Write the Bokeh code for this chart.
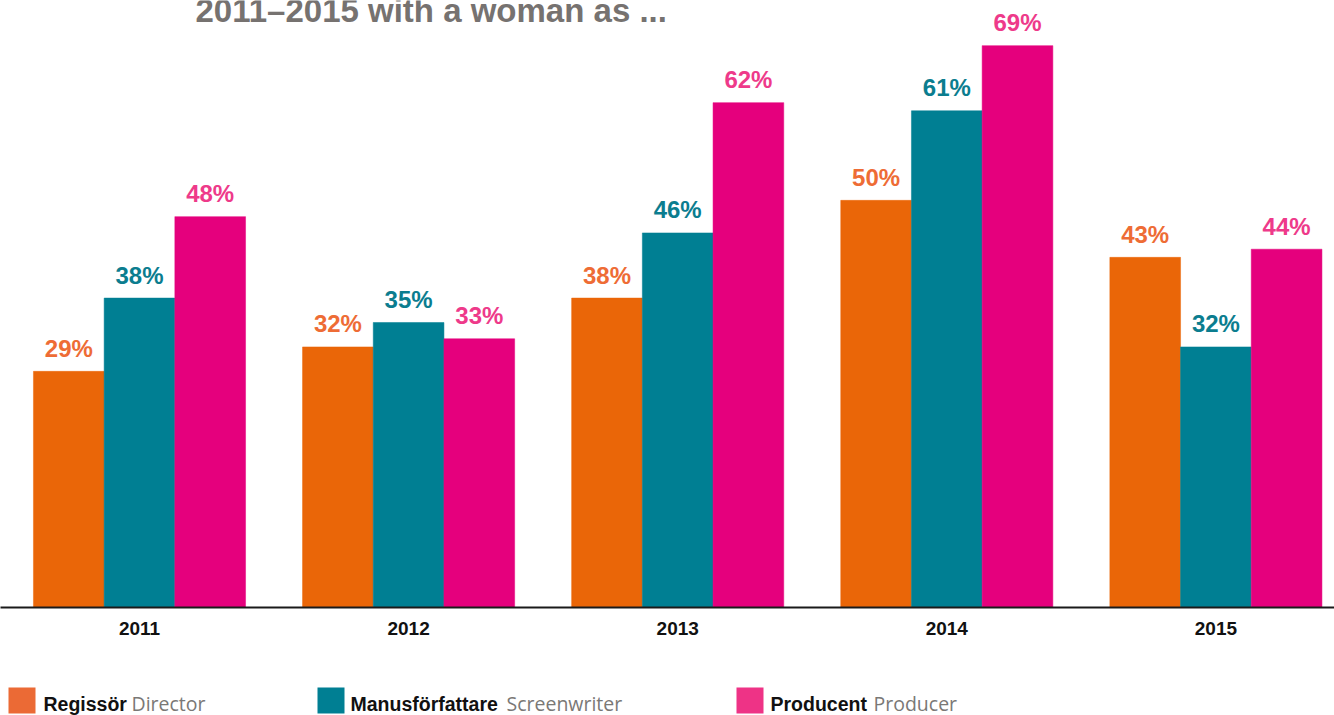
from bokeh.plotting import figure
from bokeh.models import Range1d, ColumnDataSource, LabelSet, Label, FixedTicker
from bokeh.layouts import column
from bokeh.embed import file_html
from bokeh.resources import INLINE
from bokeh.core.properties import value

# ---- data ----
years = ["2011", "2012", "2013", "2014", "2015"]
director = [29, 32, 38, 50, 43]
screenwriter = [38, 35, 46, 61, 32]
producer = [48, 33, 62, 69, 44]
roles_sv = ["Regissör", "Manusförfattare", "Producent"]
roles_en = ["Director", "Screenwriter", "Producer"]
title_text = "2011\u20132015 with a woman as ..."

# ---- styles / layout ----
bar_colors = ["#EA6608", "#007F93", "#E5007D"]
label_colors = ["#EE6C35", "#0B7D8F", "#EE3A8A"]
legend_colors = ["#EB6A35", "#007F93", "#EE3386"]
FONT = "Liberation Sans"

W = 1334
PX_PER_GROUP = 269.1
FIRST_CENTER = 139
PX_PER_PCT = 8.143
AXIS_Y = 607
MAIN_H = 660
LEG_H = 55
BAR_W = 70.7 / PX_PER_GROUP

x_start = -FIRST_CENTER / PX_PER_GROUP
x_end = x_start + W / PX_PER_GROUP
y_end = AXIS_Y / PX_PER_PCT

p = figure(width=W, height=MAIN_H,
           x_range=Range1d(x_start, x_end), y_range=Range1d(0, y_end),
           output_backend="svg", toolbar_location=None, y_axis_location=None,
           min_border_left=0, min_border_right=0, min_border_top=0,
           min_border_bottom=MAIN_H - AXIS_Y)
p.outline_line_color = None
p.grid.visible = False
p.background_fill_color = "white"

series = [director, screenwriter, producer]
for k, vals in enumerate(series):
    offset = (k - 1) * BAR_W
    xs = [i + offset for i in range(len(years))]
    src = ColumnDataSource(dict(x=xs, top=vals, text=[f"{v}%" for v in vals]))
    p.vbar(x="x", top="top", bottom=0, width=BAR_W, source=src,
           fill_color=bar_colors[k], line_color=bar_colors[k], line_width=0.5)
    p.add_layout(LabelSet(x="x", y="top", text="text", source=src,
                          y_offset=14.5, text_align="center", text_baseline="alphabetic",
                          text_font=value(FONT), text_font_style="bold",
                          text_font_size="24px", text_color=label_colors[k]))

ax = p.xaxis[0]
ax.ticker = FixedTicker(ticks=list(range(len(years))))
ax.major_label_overrides = {i: y for i, y in enumerate(years)}
ax.axis_line_width = 2
ax.axis_line_color = "#1a1a1a"
ax.major_tick_line_color = None
ax.minor_tick_line_color = None
ax.major_tick_in = 0
ax.major_tick_out = 0
ax.major_label_standoff = 14
ax.major_label_text_font = FONT
ax.major_label_text_font_style = "bold"
ax.major_label_text_font_size = "19px"
ax.major_label_text_color = "#111111"

p.add_layout(Label(x=x_start + 195 / PX_PER_GROUP, y=(AXIS_Y - 10) / PX_PER_PCT,
                   text=title_text, text_font=FONT, text_font_style="bold",
                   text_font_size="33px", text_color="#767270",
                   text_baseline="middle"))

# ---- legend strip ----
leg = figure(width=W, height=LEG_H, x_range=Range1d(0, W), y_range=Range1d(LEG_H, 0),
             output_backend="svg", toolbar_location=None,
             x_axis_location=None, y_axis_location=None,
             min_border_left=0, min_border_right=0, min_border_top=0, min_border_bottom=0)
leg.outline_line_color = None
leg.grid.visible = False

sw_left = [8, 317, 736]
sv_x = [43, 350, 770]
en_x = [131, 506, 873]
leg.quad(left=sw_left, right=[v + 27 for v in sw_left], top=[27] * 3, bottom=[53] * 3,
         fill_color=legend_colors, line_color=None)
leg.text(x=sv_x, y=[43] * 3, text=roles_sv, text_font=value(FONT), text_font_style="bold",
         text_font_size="19.5px", text_color="#111111", text_baseline="middle")
leg.text(x=en_x, y=[43] * 3, text=roles_en, text_font=value("Open Sans"),
         text_font_size="19.5px", text_color="#7A7876", text_baseline="middle")

layout = column(p, leg, spacing=0,
                styles={"position": "absolute", "top": "0px", "left": "0px"})

open("out.html", "w").write(file_html(layout, INLINE))
